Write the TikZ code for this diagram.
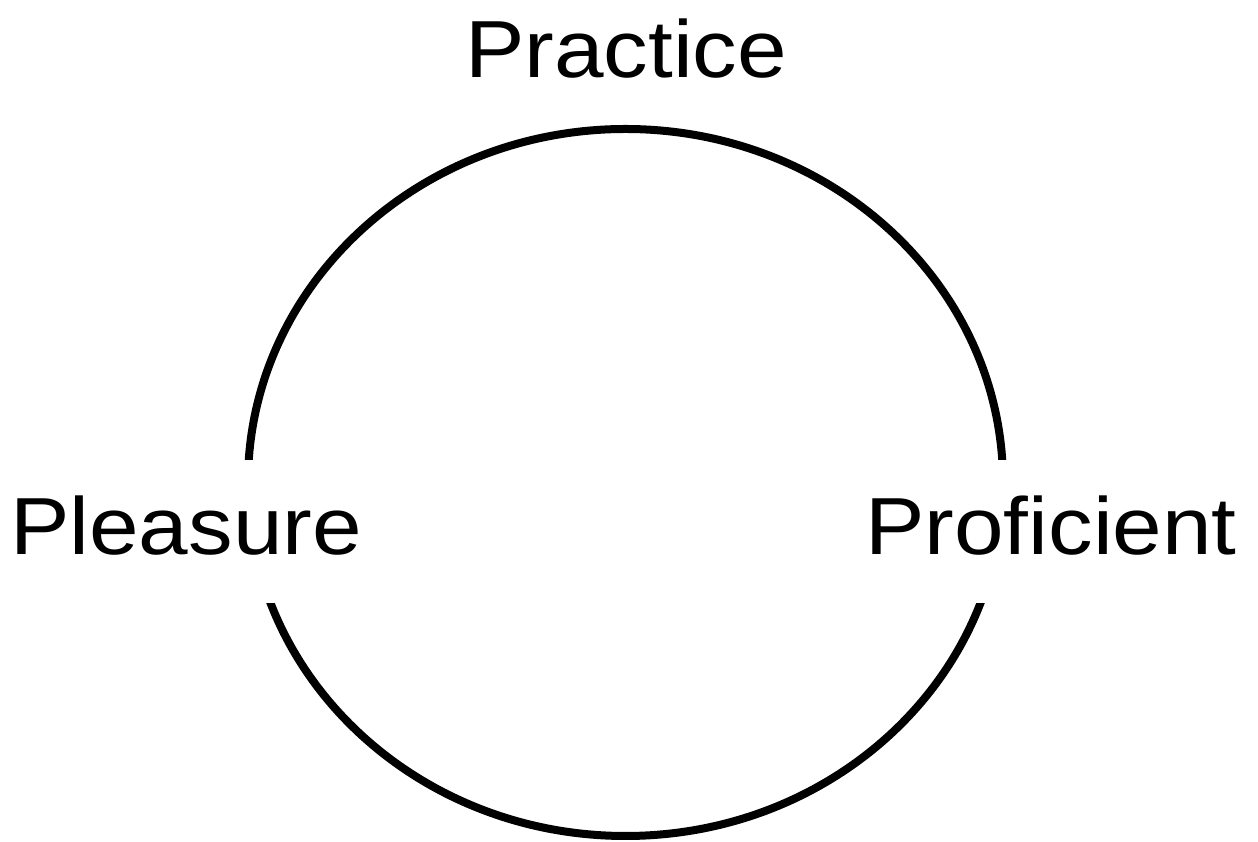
\documentclass[tikz,border=0pt]{standalone}
\usepackage{fontspec}
\setmainfont{Liberation Sans}[FakeStretch=1.1]
\begin{document}
\begin{tikzpicture}[x=1pt,y=1pt,
  wordlabel/.style={font=\fontsize{81}{81}\selectfont, inner sep=0pt, anchor=base},
  ringline/.style={line width=8pt}]
\useasboundingbox (0,0) rectangle (1258,842);
% upper arc of the cycle
\begin{scope}
  \clip (0,382) rectangle (1258,842);
  \draw[ringline] (625.5,359.5) ellipse [x radius=377.5, y radius=353.5];
\end{scope}
% lower arc of the cycle
\begin{scope}
  \clip (0,0) rectangle (1258,238);
  \draw[ringline] (625.5,359.5) ellipse [x radius=377.5, y radius=353.5];
\end{scope}
% the three stages
\node[wordlabel] (practice) at (626,764) {Practice};
\node[wordlabel] (pleasure) at (186,287) {Pleasure};
\node[wordlabel] (proficient) at (1051,287) {Proficient};
\end{tikzpicture}
\end{document}
